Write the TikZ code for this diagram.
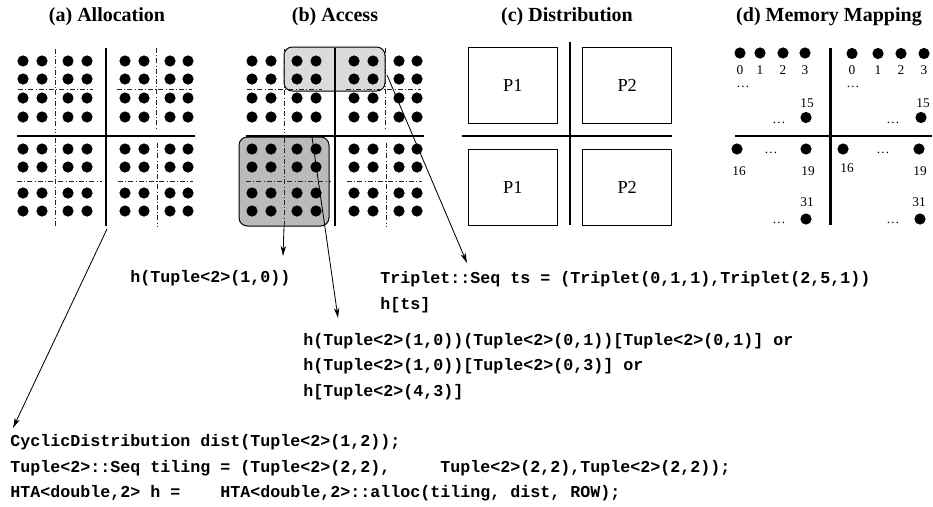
\documentclass[tikz,border=0pt]{standalone}
\usepackage{fontspec}
\setmainfont{Liberation Serif}
\setmonofont{Liberation Mono}
\usetikzlibrary{arrows.meta, positioning}

\begin{document}
\begin{tikzpicture}[
  x=0.6pt, y=-0.6pt,
  ttl/.style={font=\bfseries\fontsize{12}{14}\selectfont, inner sep=0pt},
  split/.style={line width=1.7pt},
  tileln/.style={line width=0.4pt, black!85,
                 dash pattern=on 3pt off 1.3pt on 0.6pt off 1.3pt},
  sel/.style={draw, line width=0.6pt, rounded corners=5pt, inner sep=0pt},
  pbox/.style={draw, line width=0.6pt, minimum width=53.4pt,
               minimum height=45.6pt, font=\fontsize{11}{13}\selectfont},
  num/.style={font=\fontsize{8}{9}\selectfont, inner sep=0pt},
  code/.style={font=\ttfamily\bfseries\fontsize{10}{15.2}\selectfont,
               align=left, inner sep=0pt, anchor=north west},
  arr/.style={-{Stealth[length=6pt, width=3.2pt, inset=1.6pt]}, line width=0.5pt}
]
\useasboundingbox (0,0) rectangle (933,506);

% titles
\node[ttl] (ttlA) at (107,17) {(a) Allocation};
\node[ttl] (ttlB) at (335,17) {(b) Access};
\node[ttl] (ttlC) at (567,17) {(c) Distribution};
\node[ttl] (ttlD) at (829,17) {(d) Memory Mapping};

% selected tiles in (b), under the grid
\node (upsel) [sel, fill=black!14, minimum width=60.6pt, minimum height=26.4pt]
  at (334.5,69) {};
\node (lowsel) [sel, fill=black!27, minimum width=54pt, minimum height=53.4pt]
  at (284,181.5) {};

% (a) and (b): 2x2 tiles of 2x2 tiles of 2x2 elements
\foreach \ox in {0,229} {
  \foreach \x in {23,42,68,87,125,144,170,188}
    \foreach \y in {61,79,98,117,149,167,193,211}
      \fill (\x+\ox,\y) circle (5.6);
  \draw[tileln] (55+\ox,49) -- (55+\ox,132) (18+\ox,89) -- (93+\ox,89);
  \draw[tileln] (156+\ox,48) -- (156+\ox,130) (117+\ox,89) -- (192+\ox,89);
  \draw[tileln] (55+\ox,138) -- (55+\ox,226) (17+\ox,181) -- (102+\ox,181);
  \draw[tileln] (157+\ox,143) -- (157+\ox,226) (118+\ox,181) -- (193+\ox,181);
  \draw[split] (17+\ox,136) -- (195+\ox,136) (106+\ox,48) -- (106+\ox,226);
}

% (c) distribution
\draw[split] (570,42) -- (570,225) (462,136) -- (672,136);
\node (p1top) [pbox] at (512.8,85.5) {P1};
\node (p2top) [pbox] at (627.2,85.5) {P2};
\node (p1bot) [pbox] at (512.8,187.5) {P1};
\node (p2bot) [pbox] at (627.2,187.5) {P2};

% (d) memory mapping
\draw[split] (830.7,48) -- (830.7,225) (735,136) -- (932,136);
\foreach \x/\n in {740/0,760/1,783/2,805/3} {
  \fill (\x,53) circle (5.6);
  \node[num] (mla\n) at (\x,70) {\n};
}
\foreach \x/\n in {852/0,878/1,901/2,924/3} {
  \fill (\x,53.5) circle (5.6);
  \node[num] (mra\n) at (\x,70) {\n};
}
\node[num] (mlb) at (743,87) {\dots};
\node[num] (mrb) at (853,87) {\dots};
\node[num] (ml15) at (807,103) {15};
\node[num] (mr15) at (923,103) {15};
\fill (806,117.5) circle (5.6) (921,117.5) circle (5.6);
\node[num] (mlc) at (779,122.5) {\dots};
\node[num] (mrc) at (893,122.5) {\dots};
\fill (737,149) circle (5.6) (806,149) circle (5.6);
\fill (843,149) circle (5.6) (919,149) circle (5.6);
\node[num] (mld) at (771,153) {\dots};
\node[num] (mrd) at (883,153) {\dots};
\node[num] (ml16) at (739,171.5) {16};
\node[num] (ml19) at (808,171.5) {19};
\node[num] (mr16) at (847,168.5) {16};
\node[num] (mr19) at (920,171.5) {19};
\node[num] (ml31) at (807,202.5) {31};
\node[num] (mr31) at (919,202.5) {31};
\fill (806,219) circle (5.6) (920,219) circle (5.6);
\node[num] (mle) at (779,223) {\dots};
\node[num] (mre) at (893,223) {\dots};

% code
\node[code] (ixcode) at (130,270.5) {h(Tuple<2>(1,0))};
\node[code] (tscode) at (380,271.5)
  {Triplet::Seq ts = (Triplet(0,1,1),Triplet(2,5,1))\\ h[ts]};
\node[code] (altcode) at (303,333)
  {h(Tuple<2>(1,0))(Tuple<2>(0,1))[Tuple<2>(0,1)] or\\
   h(Tuple<2>(1,0))[Tuple<2>(0,3)] or\\
   h[Tuple<2>(4,3)]};
\node[code] (alloccode) at (10,434.5)
  {CyclicDistribution dist(Tuple<2>(1,2));\\
   Tuple<2>::Seq tiling = (Tuple<2>(2,2),\ \ \ \ \ Tuple<2>(2,2),Tuple<2>(2,2));\\
   HTA<double,2> h =\ \ \ \ HTA<double,2>::alloc(tiling, dist, ROW);};

% connectors
\coordinate (tipA) at (283,256);
\coordinate (srcB) at (312,137);
\coordinate (tipB) at (338,318);
\coordinate (srcC) at (387,75);
\coordinate (tipC) at (467,263);
\coordinate (srcD) at (107,229);
\coordinate (tipD) at (13,428);
\draw[arr] (lowsel.south) -- (tipA);
\draw[arr] (srcB) -- (tipB);
\draw[arr] (srcC) -- (tipC);
\draw[arr] (srcD) -- (tipD);
\end{tikzpicture}
\end{document}
